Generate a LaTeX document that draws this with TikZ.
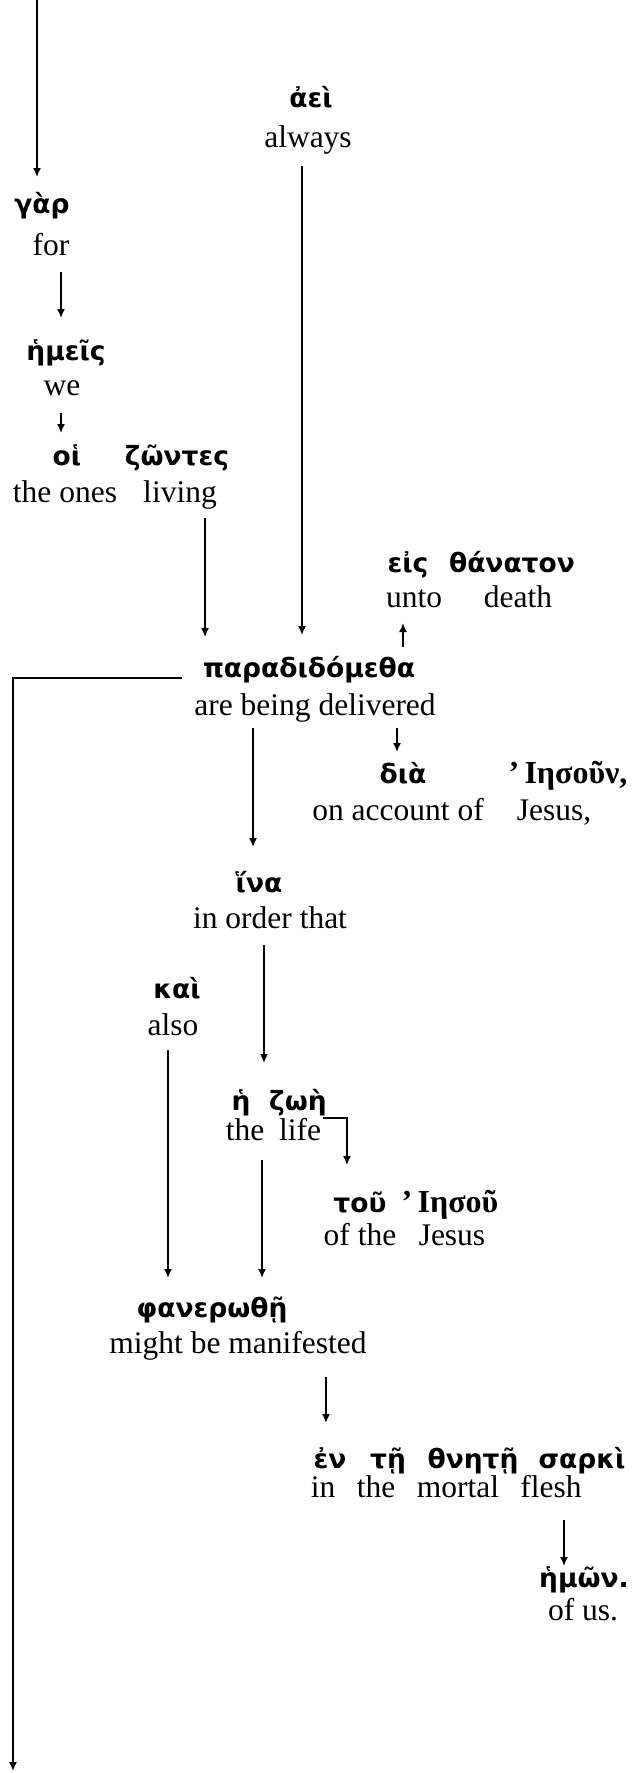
\documentclass[tikz,border=0pt]{standalone}
\usepackage{fontspec}
\setmainfont{Liberation Serif}
\newfontfamily\gk{DejaVu Sans Bold}
\usetikzlibrary{arrows.meta}
\tikzset{
  gr/.style={anchor=base, inner sep=0pt, font=\gk\fontsize{26.5}{30}\selectfont},
  grs/.style={anchor=base, inner sep=0pt, font=\bfseries\fontsize{32}{36}\selectfont},
  en/.style={anchor=base, inner sep=0pt, font=\fontsize{31.5}{36}\selectfont},
  arr/.style={-{Latex[length=9pt,width=8pt]}, line width=1.6pt}
}
\begin{document}
\begin{tikzpicture}[x=1pt,y=-1pt]
\useasboundingbox (0,0) rectangle (636,1773);
% words
\node[gr] (gar) at (42,213) {γὰρ};
\node[en] (for) at (51,255) {for};
\node[gr] (hemeis) at (66,360) {ἡμεῖς};
\node[en] (we) at (62,395) {we};
\node[gr] (hoi) at (67,465) {οἱ};
\node[gr] (zontes) at (177,465) {ζῶντες};
\node[en] (theones) at (65,502) {the ones};
\node[en] (living) at (180,502) {living};
\node[gr] (aei) at (311,107) {ἀεὶ};
\node[en] (always) at (308,147) {always};
\node[gr] (eis) at (408,572) {εἰς};
\node[gr] (thanaton) at (512,572) {θάνατον};
\node[en] (unto) at (414,607) {unto};
\node[en] (death) at (518,607) {death};
\node[gr] (para) at (309,677) {παραδιδόμεθα};
\node[en] (deliv) at (315,715) {are being delivered};
\node[gr] (dia) at (403,783) {διὰ};
\node[grs] (iesoun) at (568,783) {’\,Ιησοῦν,};
\node[en] (onacc) at (398,820) {on account of};
\node[en] (jesus) at (554,820) {Jesus,};
\node[gr] (hina) at (259,892) {ἵνα};
\node[en] (inorder) at (270,928) {in order that};
\node[gr] (kai) at (177,998) {καὶ};
\node[en] (also) at (173,1035) {also};
\node[gr] (he) at (241,1110) {ἡ};
\node[gr] (zoe) at (298,1110) {ζωὴ};
\node[en] (the1) at (245,1140) {the};
\node[en] (life) at (300,1140) {life};
\node[gr] (tou) at (360,1212) {τοῦ};
\node[grs] (iesou) at (450,1212) {’\,Ιησοῦ};
\node[en] (ofthe) at (360,1245) {of the};
\node[en] (jesus2) at (452,1245) {Jesus};
\node[gr] (phan) at (212,1317) {φανερωθῇ};
\node[en] (might) at (238,1353) {might be manifested};
\node[gr] (en) at (330,1468) {ἐν};
\node[gr] (te) at (388,1468) {τῇ};
\node[gr] (thnete) at (473,1468) {θνητῇ};
\node[gr] (sarki) at (582,1468) {σαρκὶ};
\node[en] (in) at (323,1497) {in};
\node[en] (the2) at (376,1497) {the};
\node[en] (mortal) at (458,1497) {mortal};
\node[en] (flesh) at (551,1497) {flesh};
\node[gr] (hemon) at (584,1587) {ἡμῶν.};
\node[en] (ofus) at (583,1620) {of us.};
% free ends
\coordinate (topstart) at (37,0);
\coordinate (bottomend) at (13,1771);
% connectors
\draw[arr] (topstart) -- ([shift={(-5,-36)}]gar.base);
\draw[arr] ([shift={(10,17)}]for.base) -- ([shift={(-5,-42)}]hemeis.base);
\draw[arr] ([shift={(-1,18)}]we.base) -- ([shift={(-6,-32)}]hoi.base);
\draw[arr] ([shift={(25,16)}]living.base) -- ([shift={(-104,-40)}]para.base);
\draw[arr] ([shift={(-6,19)}]always.base) -- ([shift={(-7,-42)}]para.base);
\draw[arr] ([shift={(94,-30)}]para.base) -- ([shift={(-11,16)}]unto.base);
\draw[arr] ([shift={(82,13)}]deliv.base) -- ([shift={(-6,-31)}]dia.base);
\draw[arr] ([shift={(-62,13)}]deliv.base) -- ([shift={(-6,-45)}]hina.base);
\draw[arr] ([shift={(-127,1)}]para.base) -| (bottomend);
\draw[arr] ([shift={(-6,17)}]inorder.base) -- ([shift={(23,-47)}]he.base);
\draw[arr] ([shift={(-5,15)}]also.base) -- ([shift={(-44,-39)}]phan.base);
\draw[arr] ([shift={(-38,20)}]life.base) -- ([shift={(50,-39)}]phan.base);
\draw[arr] ([shift={(23,-22)}]life.base) -| ([shift={(-13,-47)}]tou.base);
\draw[arr] ([shift={(88,24)}]might.base) -- ([shift={(-4,-45)}]en.base);
\draw[arr] ([shift={(13,23)}]flesh.base) -- ([shift={(-20,-21)}]hemon.base);
\end{tikzpicture}
\end{document}
